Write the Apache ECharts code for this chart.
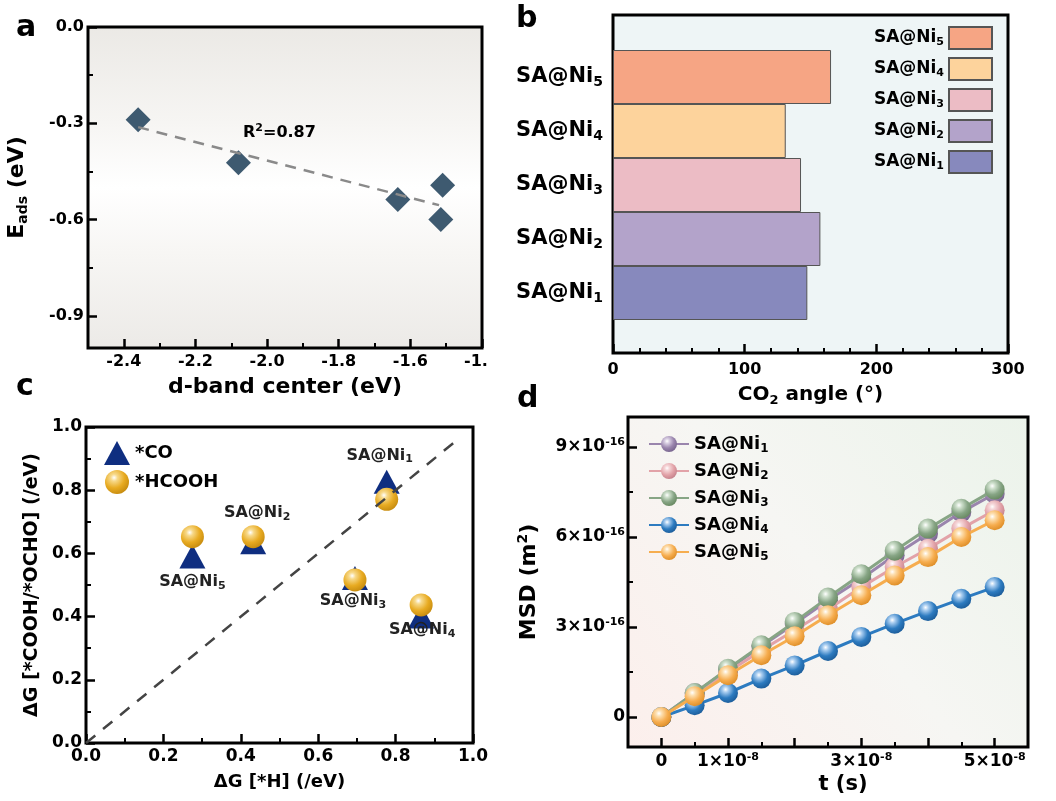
<!DOCTYPE html>
<html><head><meta charset="utf-8">
<script src="https://cdn.jsdelivr.net/npm/echarts@6/dist/echarts.min.js"></script>
<style>html,body{margin:0;padding:0;background:#fff}#c{width:1056px;height:801px}</style>
</head><body><div id="c"></div>
<script>
const F = 'DejaVu Sans';
// ---------- panel a ----------
const aDband = [-2.36, -2.08, -1.635, -1.51, -1.515];
const aEads = [-0.289, -0.423, -0.537, -0.493, -0.600];
const aFitX = [-2.36, -1.52];
const aFitY = [-0.312, -0.555];
const aXTicks = [-2.4, -2.2, -2.0, -1.8, -1.6, -1.4];
const aXMinor = [-2.3, -2.1, -1.9, -1.7, -1.5];
const aYTicks = [0, -0.3, -0.6, -0.9];
const aYMinor = [-0.15, -0.45, -0.75];
// ---------- panel b ----------
const bCategories = ['SA@Ni1', 'SA@Ni2', 'SA@Ni3', 'SA@Ni4', 'SA@Ni5'];
const bAngle = [147.6, 157.5, 142.8, 131.2, 165.6];
const bColors = ['#8789bd', '#b3a3ca', '#ecbcc5', '#fdd39c', '#f6a584'];
// ---------- panel c ----------
const cNames = ['SA@Ni1', 'SA@Ni2', 'SA@Ni3', 'SA@Ni4', 'SA@Ni5'];
const cDGH = [0.777, 0.432, 0.695, 0.866, 0.275];
const cDG_CO = [0.827, 0.635, 0.522, 0.400, 0.590];
const cDG_HCOOH = [0.771, 0.653, 0.516, 0.437, 0.653];
const cParityX = [0, 0.955];
const cParityY = [0, 0.955];
const cLabelOffsets = [[-7, -44], [4, -24], [-2, 21], [1, 25], [0, 45]];
// ---------- panel d ----------
const dTime = [0, 0.5, 1, 1.5, 2, 2.5, 3, 3.5, 4, 4.5, 5]; // x 1e-8 s
const dNi1 = [0, 0.80, 1.58, 2.36, 3.11, 3.89, 4.61, 5.39, 6.11, 6.83, 7.44]; // x 1e-16 m2
const dNi2 = [0, 0.74, 1.50, 2.22, 2.89, 3.58, 4.33, 5.00, 5.61, 6.28, 6.89];
const dNi3 = [0, 0.80, 1.61, 2.39, 3.17, 3.98, 4.76, 5.54, 6.28, 6.94, 7.58];
const dNi4 = [0, 0.39, 0.80, 1.28, 1.72, 2.20, 2.67, 3.11, 3.53, 3.94, 4.33];
const dNi5 = [0, 0.69, 1.39, 2.06, 2.69, 3.39, 4.06, 4.72, 5.33, 6.00, 6.56];
const dNames = ['SA@Ni1', 'SA@Ni2', 'SA@Ni3', 'SA@Ni4', 'SA@Ni5'];
const dXLabels = [0, 1, 3, 5];
const dXMajor = [0, 1, 2, 3, 4, 5];
const dXMinor = [0.5, 1.5, 2.5, 3.5, 4.5];
const dYLabels = [0, 3, 6, 9];
const dYMinor = [1.5, 4.5, 7.5];

const dColors = [['#9a85ad', '#d9cfe3', '#76638d'], ['#e2a2a8', '#f5d6d8', '#c4808a'],
  ['#87a585', '#cfe0cd', '#66875f'], ['#2d7bc0', '#a9cdf0', '#1b5b98'], ['#f6ad4f', '#fde0b2', '#dd8c25']];

function sphere(base, light, dark) {
  return {type: 'radial', x: 0.38, y: 0.32, r: 0.72, colorStops: [
    {offset: 0, color: '#ffffff'}, {offset: 0.2, color: light}, {offset: 0.6, color: base}, {offset: 1, color: dark}]};
}
function rich(size, sub, color) {
  color = color || '#000';
  return {
    b: {fontFamily: F, fontWeight: 'bold', fontSize: size, color: color, lineHeight: Math.round(size * 1.2)},
    s: {fontFamily: F, fontWeight: 'bold', fontSize: sub, color: color, verticalAlign: 'bottom', lineHeight: Math.round(sub * 1.05)},
    p: {fontFamily: F, fontWeight: 'bold', fontSize: sub, color: color, verticalAlign: 'top', lineHeight: Math.round(sub * 1.05)},
    r: {fontFamily: F, fontWeight: 'bold', fontSize: size, color: color, padding: [0, 12, 0, 0]}
  };
}
function subName(n) { const m = n.match(/^(.*?)(\d)$/); return '{b|' + m[1] + '}{s|' + m[2] + '}'; }
function lbl(size, extra) {
  return Object.assign({fontFamily: F, fontWeight: 'bold', fontSize: size, color: '#000'}, extra || {});
}
function tick(len, w, vals) {
  const t = {show: true, inside: true, length: len, lineStyle: {color: '#000', width: w}};
  if (vals) t.customValues = vals;
  return t;
}
function noLine() { return {show: false, onZero: false}; }
function noSplit() { return {show: false}; }
function minor(n) { return {show: true, splitNumber: n, length: 5, lineStyle: {color: '#000', width: 2}}; }

const grids = [
  {left: 88, top: 27, width: 394, height: 321, show: true, borderColor: '#000', borderWidth: 3,
   backgroundColor: {type: 'linear', x: 0, y: 0, x2: 0, y2: 1, colorStops: [
     {offset: 0, color: '#ebe9e5'}, {offset: 0.3, color: '#f6f5f3'}, {offset: 0.5, color: '#ffffff'},
     {offset: 0.7, color: '#f7f6f4'}, {offset: 1, color: '#eceae7'}]}},
  {left: 613, top: 15, width: 395, height: 338, show: true, borderColor: '#000', borderWidth: 3, backgroundColor: '#eef5f6'},
  {left: 613, top: 50, width: 395, height: 270},
  {left: 86, top: 427, width: 387, height: 316, show: true, borderColor: '#000', borderWidth: 3, backgroundColor: '#fff'},
  {left: 628, top: 417, width: 400, height: 330, show: true, borderColor: '#000', borderWidth: 3,
   backgroundColor: {type: 'linear', x: 0, y: 1, x2: 1, y2: 0, colorStops: [
     {offset: 0, color: '#fcefec'}, {offset: 0.5, color: '#f6f6f3'}, {offset: 1, color: '#ebf3ea'}]}}
];
grids.forEach(g => { g.containLabel = false; g.outerBoundsMode = 'none'; });

const xAxes = [
  {gridIndex: 0, type: 'value', min: -2.5, max: -1.4, position: 'bottom', axisLine: noLine(), splitLine: noSplit(),
   axisTick: tick(9, 2.5, aXTicks),
   axisLabel: lbl(16, {customValues: aXTicks, margin: 6, rich: rich(16, 11),
     formatter: v => v === -1.4 ? '{r|-1.}' : v.toFixed(1)}),
   name: 'd-band center (eV)', nameLocation: 'middle', nameGap: 28, nameTextStyle: lbl(22)},
  {gridIndex: 0, type: 'value', min: -2.5, max: -1.4, position: 'bottom', axisLine: noLine(), splitLine: noSplit(),
   axisTick: tick(5, 2, aXMinor), axisLabel: {show: false}},
  {gridIndex: 1, type: 'value', min: 0, max: 300, interval: 100, position: 'bottom', axisLine: noLine(), splitLine: noSplit(),
   axisTick: tick(9, 2.5), minorTick: minor(5),
   axisLabel: lbl(16, {margin: 9}),
   name: '{b|CO}{s|2}{b| angle (°)}', nameLocation: 'middle', nameGap: 30, nameTextStyle: lbl(20, {rich: rich(20, 13)})},
  {gridIndex: 2, type: 'value', min: 0, max: 300, show: false, axisLine: noLine()},
  {gridIndex: 3, type: 'value', min: 0, max: 1, interval: 0.2, position: 'bottom', axisLine: noLine(), splitLine: noSplit(),
   axisTick: tick(9, 2.5), minorTick: minor(2),
   axisLabel: lbl(17, {margin: 5, formatter: v => v.toFixed(1)}),
   name: 'ΔG [*H] (/eV)', nameLocation: 'middle', nameGap: 30, nameTextStyle: lbl(18)},
  {gridIndex: 4, type: 'value', min: -0.5, max: 5.5, position: 'bottom', axisLine: noLine(), splitLine: noSplit(),
   axisTick: tick(9, 2.5, dXMajor),
   axisLabel: lbl(17, {customValues: dXLabels, margin: 5, rich: rich(17, 11),
     formatter: v => v === 0 ? '{b|0}' : '{b|' + v + '×10}{p|-8}'}),
   name: 't (s)', nameLocation: 'middle', nameGap: 27, nameTextStyle: lbl(21, {padding: [0, 0, 0, 30]})},
  {gridIndex: 4, type: 'value', min: -0.5, max: 5.5, position: 'bottom', axisLine: noLine(), splitLine: noSplit(),
   axisTick: tick(5, 2, dXMinor), axisLabel: {show: false}}
];
const yAxes = [
  {gridIndex: 0, type: 'value', min: -1, max: 0, position: 'left', axisLine: noLine(), splitLine: noSplit(),
   axisTick: tick(9, 2.5, aYTicks),
   axisLabel: lbl(16, {customValues: aYTicks, margin: 4, formatter: v => v.toFixed(1)}),
   name: '{b|E}{s|ads}{b| (eV)}', nameLocation: 'middle', nameRotate: 90, nameGap: 58, nameTextStyle: lbl(22, {rich: rich(22, 14)})},
  {gridIndex: 0, type: 'value', min: -1, max: 0, position: 'left', axisLine: noLine(), splitLine: noSplit(),
   axisTick: tick(5, 2, aYMinor), axisLabel: {show: false}},
  {gridIndex: 1, type: 'value', min: 0, max: 1, show: false, axisLine: noLine()},
  {gridIndex: 2, type: 'category', data: bCategories, axisLine: noLine(), axisTick: {show: false}, splitLine: noSplit(),
   axisLabel: lbl(21, {margin: 10, rich: rich(21, 14), formatter: v => subName(v)})},
  {gridIndex: 3, type: 'value', min: 0, max: 1, interval: 0.2, position: 'left', axisLine: noLine(), splitLine: noSplit(),
   axisTick: tick(9, 2.5), minorTick: minor(2),
   axisLabel: lbl(17, {margin: 4, formatter: v => v.toFixed(1)}),
   name: 'ΔG [*COOH/*OCHO] (/eV)', nameLocation: 'middle', nameRotate: 90, nameGap: 44, nameTextStyle: lbl(19)},
  {gridIndex: 4, type: 'value', min: -1, max: 10, position: 'left', axisLine: noLine(), splitLine: noSplit(),
   axisTick: tick(9, 2.5, dYLabels),
   axisLabel: lbl(17, {customValues: dYLabels, margin: 3, rich: rich(17, 11),
     formatter: v => v === 0 ? '{b|0}' : '{b|' + v + '×10}{p|-16}'}),
   name: '{b|MSD (m}{p|2}{b|)}', nameLocation: 'middle', nameRotate: 90, nameGap: 86, nameTextStyle: lbl(22, {rich: rich(22, 14)})},
  {gridIndex: 4, type: 'value', min: -1, max: 10, position: 'left', axisLine: noLine(), splitLine: noSplit(),
   axisTick: tick(5, 2, dYMinor), axisLabel: {show: false}}
];

const series = [];
// a
series.push({type: 'scatter', name: 'Eads', xAxisIndex: 0, yAxisIndex: 0, symbol: 'diamond', symbolSize: 25,
  itemStyle: {color: '#3e5a70', opacity: 1}, data: aDband.map((x, i) => [x, aEads[i]]), z: 3});
series.push({type: 'line', name: 'fit', xAxisIndex: 0, yAxisIndex: 0, symbol: 'none',
  lineStyle: {color: '#8a8a8a', width: 2.5, type: [11, 8]}, data: aFitX.map((x, i) => [x, aFitY[i]]), z: 4});
// b
bCategories.forEach((cat, k) => {
  series.push({type: 'bar', name: 'b:' + cat, xAxisIndex: 3, yAxisIndex: 3, stack: 'angle', barWidth: '100%',
    itemStyle: {color: bColors[k], borderColor: '#555', borderWidth: 1},
    data: bCategories.map((c, i) => i === k ? bAngle[i] : '-')});
});
// c
series.push({type: 'scatter', name: '*CO', xAxisIndex: 4, yAxisIndex: 4, symbol: 'triangle', symbolSize: [26, 24],
  itemStyle: {color: '#0f2e80', opacity: 1}, data: cDGH.map((x, i) => [x, cDG_CO[i]]), z: 3});
series.push({type: 'scatter', name: '*HCOOH', xAxisIndex: 4, yAxisIndex: 4, symbol: 'circle', symbolSize: 23,
  itemStyle: {color: sphere('#e8ab22', '#f7d98a', '#c58a0e'), opacity: 1},
  label: {show: true, position: 'inside', color: '#222', textBorderWidth: 0, rich: rich(16, 11, '#222'), formatter: p => subName(p.name)},
  data: cDGH.map((x, i) => ({name: cNames[i], value: [x, cDG_HCOOH[i]], label: {offset: cLabelOffsets[i]}})), z: 4});
series.push({type: 'line', name: 'parity', xAxisIndex: 4, yAxisIndex: 4, symbol: 'none',
  lineStyle: {color: '#444', width: 2.5, type: [12, 10]}, data: cParityX.map((x, i) => [x, cParityY[i]]), z: 5});
// d
[dNi1, dNi2, dNi3, dNi4, dNi5].forEach((arr, k) => {
  series.push({type: 'line', name: dNames[k], xAxisIndex: 5, yAxisIndex: 5, symbol: 'circle', symbolSize: 20,
    lineStyle: {color: dColors[k][0], width: 3},
    itemStyle: {color: sphere(dColors[k][0], dColors[k][1], dColors[k][2]), opacity: 1},
    data: dTime.map((t, i) => [t, arr[i]]), z: 3 + k});
});

const option = {
  animation: false,
  backgroundColor: '#fff',
  textStyle: {fontFamily: F, fontWeight: 'bold'},
  grid: grids, xAxis: xAxes, yAxis: yAxes, series: series,
  legend: [
    {data: bCategories.slice().reverse().map(c => 'b:' + c), orient: 'vertical', right: 58, top: 21, align: 'right',
     itemWidth: 43, itemHeight: 22, itemGap: 7, icon: 'rect', selectedMode: false,
     formatter: n => subName(n.replace(/^b:/, '')), textStyle: lbl(17, {rich: rich(17, 11)})},
    {data: ['*CO', '*HCOOH'], orient: 'vertical', left: 99, top: 436, itemWidth: 26, itemHeight: 24, itemGap: 5,
     selectedMode: false, textStyle: lbl(18)},
    {data: dNames, orient: 'vertical', left: 643, top: 430, itemWidth: 40, itemHeight: 20, itemGap: 7,
     selectedMode: false, formatter: n => subName(n), textStyle: lbl(18, {rich: rich(18, 12)})}
  ],
  graphic: [
    {type: 'text', left: 16, top: 13, style: {text: 'a', font: 'bold 30px "DejaVu Sans"', fill: '#000'}},
    {type: 'text', left: 516, top: 4, style: {text: 'b', font: 'bold 30px "DejaVu Sans"', fill: '#000'}},
    {type: 'text', left: 16, top: 372, style: {text: 'c', font: 'bold 30px "DejaVu Sans"', fill: '#000'}},
    {type: 'text', left: 517, top: 384, style: {text: 'd', font: 'bold 30px "DejaVu Sans"', fill: '#000'}},
    {type: 'text', left: 243, top: 123, style: {text: '{b|R}{p|2}{b|=0.87}', rich: rich(16, 11, '#2c4654')}}
  ]
};
const chart = echarts.init(document.getElementById('c'), null, {renderer: 'canvas'});
chart.setOption(option);
</script></body></html>
